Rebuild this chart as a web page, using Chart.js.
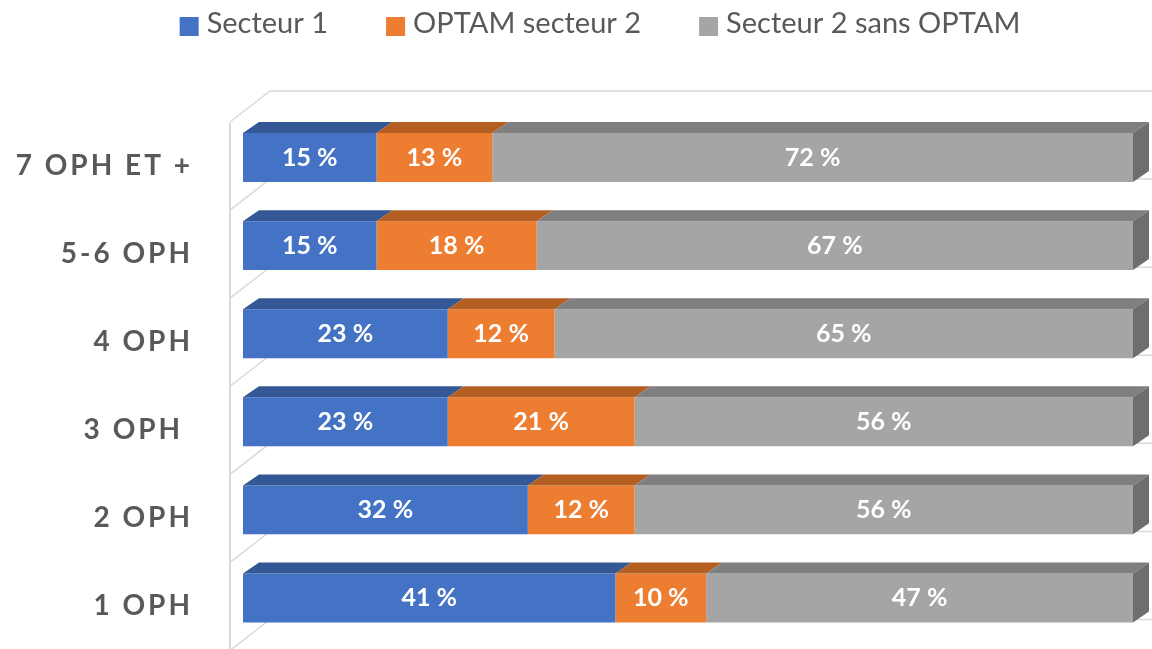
<!DOCTYPE html>
<html>
<head>
<meta charset="utf-8">
<script src="https://cdn.jsdelivr.net/npm/chart.js@4.4.0/dist/chart.umd.min.js"></script>
<style>
  html, body { margin: 0; padding: 0; background: #fff; }
  #wrap { width: 1152px; height: 649px; }
</style>
</head>
<body>
<div id="wrap"><canvas id="graph" width="1152" height="649"></canvas></div>
<script>
const categories = ['7 OPH ET +', '5-6 OPH', '4 OPH', '3 OPH ', '2 OPH', '1 OPH'];
const secteur1 = [15, 15, 23, 23, 32, 41];
const optamSecteur2 = [13, 18, 12, 21, 12, 10];
const secteur2SansOptam = [72, 67, 65, 56, 56, 47];
const seriesNames = ['Secteur 1', 'OPTAM secteur 2', 'Secteur 2 sans OPTAM'];

const colors = ['#4472C4', '#ED7D31', '#A5A5A5'];
const topColors = ['#335895', '#B45E22', '#7F7F7F'];
const sideColor = '#6E6E6E';
const textGrey = '#595959';

// 100 % empile : chaque ligne remplit toute la largeur
const raw = [secteur1, optamSecteur2, secteur2SansOptam];
const totals = categories.map((c, i) => raw.reduce((s, serie) => s + serie[i], 0));
const toPct = serie => serie.map((v, i) => v / totals[i] * 100);

const DX = 16, DY = -11;

const decor = {
    id: 'decor',
    beforeDatasetsDraw(chart) {
        const ctx = chart.ctx;
        const area = chart.chartArea;
        const band = (area.bottom - area.top) / categories.length;
        const wallX = area.left - 13;
        ctx.save();
        ctx.strokeStyle = '#D9D9D9';
        ctx.lineWidth = 2;
        ctx.beginPath();
        ctx.moveTo(wallX, area.top + 9.5);
        ctx.lineTo(wallX, chart.height);
        ctx.stroke();
        ctx.lineWidth = 1.5;
        for (let k = 0; k <= categories.length; k++) {
            const yb = area.top + band * k - 22.5;
            ctx.beginPath();
            ctx.moveTo(wallX, yb + 31);
            ctx.lineTo(wallX + 40, yb);
            ctx.lineTo(chart.width, yb);
            ctx.stroke();
        }
        ctx.restore();
    },
    afterDatasetsDraw(chart) {
        const ctx = chart.ctx;
        ctx.save();
        const n = chart.data.datasets.length;
        chart.data.datasets.forEach((ds, d) => {
            const meta = chart.getDatasetMeta(d);
            meta.data.forEach((bar, i) => {
                const x0 = Math.min(bar.base, bar.x), x1 = Math.max(bar.base, bar.x);
                const top = bar.y - bar.height / 2, bottom = bar.y + bar.height / 2;
                ctx.fillStyle = topColors[d];
                ctx.beginPath();
                ctx.moveTo(x0, top);
                ctx.lineTo(x1, top);
                ctx.lineTo(x1 + DX, top + DY);
                ctx.lineTo(x0 + DX, top + DY);
                ctx.closePath();
                ctx.fill();
                if (d === n - 1) {
                    ctx.fillStyle = sideColor;
                    ctx.beginPath();
                    ctx.moveTo(x1, top);
                    ctx.lineTo(x1 + DX, top + DY);
                    ctx.lineTo(x1 + DX, bottom + DY);
                    ctx.lineTo(x1, bottom);
                    ctx.closePath();
                    ctx.fill();
                }
            });
        });
        // etiquettes de valeurs
        ctx.fillStyle = '#FFFFFF';
        ctx.font = 'bold 25px Lato';
        ctx.textAlign = 'center';
        ctx.textBaseline = 'middle';
        chart.data.datasets.forEach((ds, d) => {
            chart.getDatasetMeta(d).data.forEach((bar, i) => {
                ctx.fillText(raw[d][i] + ' %', (bar.base + bar.x) / 2, bar.y);
            });
        });
        ctx.restore();
    },
    afterDraw(chart) {
        const ctx = chart.ctx;
        const yScale = chart.scales.y;
        ctx.save();
        // libelles des categories
        ctx.fillStyle = textGrey;
        ctx.font = 'bold 28px Lato';
        ctx.letterSpacing = '3px';
        ctx.textAlign = 'right';
        ctx.textBaseline = 'middle';
        categories.forEach((c, i) => {
            ctx.fillText(c, 193, yScale.getPixelForValue(i) + 8);
        });
        // legende
        ctx.letterSpacing = '0px';
        ctx.font = '29px Lato';
        ctx.textAlign = 'left';
        const gap = 58, boxW = 19, textOff = 27;
        const widths = chart.data.datasets.map(ds => ctx.measureText(ds.label).width);
        const total = widths.reduce((a, b) => a + b, 0) + chart.data.datasets.length * textOff + gap * (widths.length - 1);
        let x = 600 - total / 2;
        chart.data.datasets.forEach((ds, d) => {
            ctx.fillStyle = ds.backgroundColor;
            ctx.fillRect(x, 17, boxW, boxW);
            ctx.fillStyle = textGrey;
            ctx.fillText(ds.label, x + textOff, 24);
            x += textOff + widths[d] + gap;
        });
        ctx.restore();
    }
};

const ctx = document.getElementById('graph').getContext('2d');
const chart = new Chart(ctx, {
    type: 'bar',
    data: {
        labels: categories,
        datasets: raw.map((serie, d) => ({
            label: seriesNames[d],
            data: toPct(serie),
            backgroundColor: colors[d],
            borderWidth: 0,
            barPercentage: 0.556,
            categoryPercentage: 1
        }))
    },
    options: {
        indexAxis: 'y',
        responsive: false,
        animation: false,
        devicePixelRatio: 1,
        layout: { padding: { left: 243, right: 19, top: 113.5, bottom: 7 } },
        scales: {
            x: { display: false, stacked: true, min: 0, max: 100 },
            y: { display: false, stacked: true }
        },
        plugins: {
            legend: { display: false },
            tooltip: { enabled: false }
        }
    },
    plugins: [decor]
});
</script>
</body>
</html>
